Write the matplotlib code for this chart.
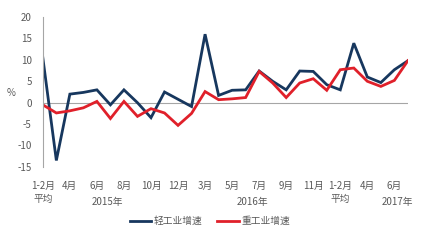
import matplotlib
matplotlib.use("Agg")
import matplotlib.pyplot as plt
import matplotlib.transforms as mtransforms

plt.rcParams['font.family'] = ['Noto Sans CJK SC', 'DejaVu Sans']

light = [10.5, -13.5, 2.0, 2.4, 3.0, -0.5, 3.0, 0.0, -3.5, 2.5, 0.8, -0.9,
         16.0, 1.7, 2.9, 3.0, 7.4, 5.0, 3.0, 7.4, 7.3, 4.2, 3.0, 13.9, 6.0, 4.7, 7.7, 9.8]
heavy = [-0.5, -2.4, -1.9, -1.2, 0.3, -3.7, 0.3, -3.2, -1.4, -2.4, -5.3, -2.5,
         2.6, 0.7, 0.9, 1.2, 7.3, 4.6, 1.2, 4.6, 5.6, 2.9, 7.7, 8.1, 5.0, 3.8, 5.2, 9.8]
tick_labels = ["1-2月\n平均", "4月", "6月", "8月", "10月", "12月", "3月", "5月", "7月",
               "9月", "11月", "1-2月\n平均", "4月", "6月"]
years = ["2015年", "2016年", "2017年"]
year_pos = [4.8, 15.5, 26.2]
series_names = ["轻工业增速", "重工业增速"]
yticks = [20, 15, 10, 5, 0, -5, -10, -15]

text_color = '#595959'
fig = plt.figure(figsize=(4.24, 2.44), dpi=100)
ax = fig.add_axes([0.101, 0.316, 0.861, 0.614])
x = list(range(len(light)))
l1, = ax.plot(x, light, color='#17375E', lw=2.0, solid_joinstyle='miter')
l2, = ax.plot(x, heavy, color='#E0202A', lw=2.0, solid_joinstyle='miter')

ax.set_xlim(0, 27)
ax.set_ylim(-15, 20)
ax.axhline(0, color='#A6A6A6', lw=0.8, zorder=0)
for s in ['top', 'right', 'bottom']:
    ax.spines[s].set_visible(False)
ax.spines['left'].set_color('#A6A6A6')
ax.spines['left'].set_linewidth(0.8)
ax.set_yticks(yticks)
ax.set_yticklabels([str(v) for v in yticks])
ax.set_xticks(list(range(0, 27, 2)))
ax.set_xticklabels(tick_labels, linespacing=1.4, va='top')
ax.tick_params(axis='both', length=0, labelsize=7, colors=text_color)
ax.tick_params(axis='x', pad=10)
ax.tick_params(axis='y', pad=8)

trans = mtransforms.blended_transform_factory(ax.transData, fig.transFigure)
for yr, p in zip(years, year_pos):
    ax.text(p, 1 - 202 / 244, yr, transform=trans, ha='center', va='center',
            fontsize=7, color=text_color)
fig.text(7 / 424, 1 - 93 / 244, '%', ha='left', va='center', fontsize=7, color=text_color)

fig.legend([l1, l2], series_names, loc='center', bbox_to_anchor=(0.495, 1 - 221 / 244),
           ncol=2, frameon=False, fontsize=7, handlelength=2.2, columnspacing=1.5,
           handletextpad=0.3, labelcolor=text_color)
fig.savefig('out.png', dpi=100)
